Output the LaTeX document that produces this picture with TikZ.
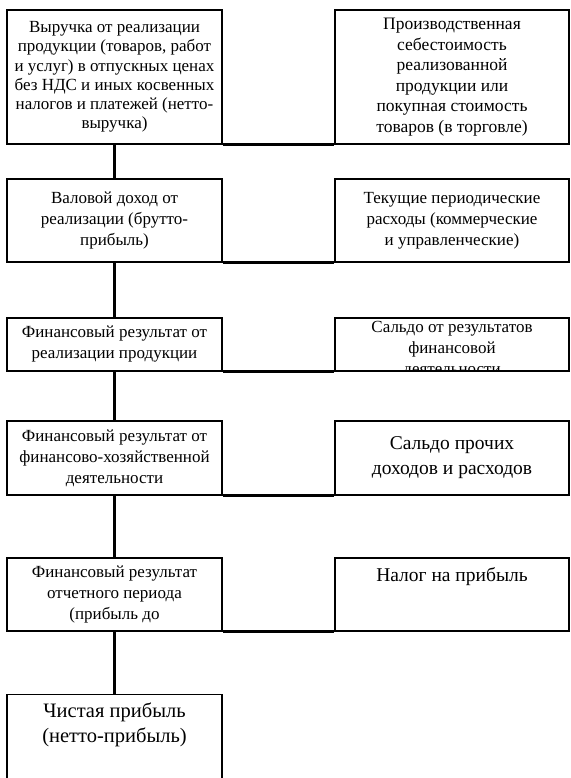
\documentclass[tikz,border=0pt]{standalone}
\usepackage{fontspec}
\setmainfont{Liberation Serif}
\usetikzlibrary{positioning}

\begin{document}
\begin{tikzpicture}[x=1pt, y=-1pt,
    box/.style={rectangle, draw, line width=1.1pt, inner sep=0pt, align=center, font=\fontsize{17}{21}\selectfont},
    lbox/.style={box, minimum width=215pt},
    rbox/.style={box, minimum width=234pt},
    big/.style={align=center, inner sep=0pt, font=\fontsize{19.5}{25}\selectfont},
    txt/.style={align=center, inner sep=0pt, font=\fontsize{17}{21}\selectfont},
    flow/.style={line width=3pt},
    link/.style={line width=2.6pt}
]
\useasboundingbox (0,0) rectangle (570,778);
\clip (0,0) rectangle (570,778);

% left column
\node[lbox, minimum height=134pt, font=\fontsize{17}{19.3}\selectfont] (rev) at (114.5,77) {Выручка от реализации\\продукции (товаров, работ\\и услуг) в отпускных ценах\\без НДС и иных косвенных\\налогов и платежей (нетто-\\выручка)};
\node[lbox, minimum height=83pt] (gross) at (114.5,220.5) {Валовой доход от\\реализации (брутто-\\прибыль)};
\node[lbox, minimum height=53pt] (sales) at (114.5,344.5) {Финансовый результат от\\реализации продукции};
\node[lbox, minimum height=74pt] (oper) at (114.5,458) {Финансовый результат от\\финансово-хозяйственной\\деятельности};
\node[lbox, minimum height=73pt] (pretax) at (114.5,594.5) {Финансовый результат\\отчетного периода\\(прибыль до};
\node[lbox, minimum height=120pt, anchor=north] (net) at (114.5,694) {};
\node[big, font=\fontsize{20.5}{25}\selectfont, below=9pt of net.north] (nettxt) {Чистая прибыль\\(нетто-прибыль)};

% right column
\node[rbox, minimum height=134pt, font=\fontsize{17.5}{20.5}\selectfont] (cost) at (452,77) {Производственная\\себестоимость\\реализованной\\продукции или\\покупная стоимость\\товаров (в торговле)};
\node[rbox, minimum height=83pt] (exp) at (452,220.5) {Текущие периодические\\расходы (коммерческие\\и управленческие)};
\node[rbox, minimum height=53pt] (fin) at (452,344.5) {};
\begin{scope}
\clip (fin.north west) rectangle (fin.south east);
\node[txt, below=4pt of fin.north] (fintxt) {Сальдо от результатов\\финансовой\\деятельности};
\end{scope}
\node[rbox, big, draw, minimum height=74pt] (other) at (452,458) {Сальдо прочих\\доходов и расходов};
\node[rbox, minimum height=73pt] (tax) at (452,594.5) {};
\node[big, below=10pt of tax.north] (taxtxt) {Налог на прибыль};

% connectors
\foreach \a/\b in {rev/gross, gross/sales, sales/oper, oper/pretax, pretax/net}
  \draw[flow] (\a) -- (\b);
\foreach \a/\b in {rev/cost, gross/exp, sales/fin, oper/other, pretax/tax}
  \draw[link] (\a.south east) -- (\b.south west);
\end{tikzpicture}
\end{document}
